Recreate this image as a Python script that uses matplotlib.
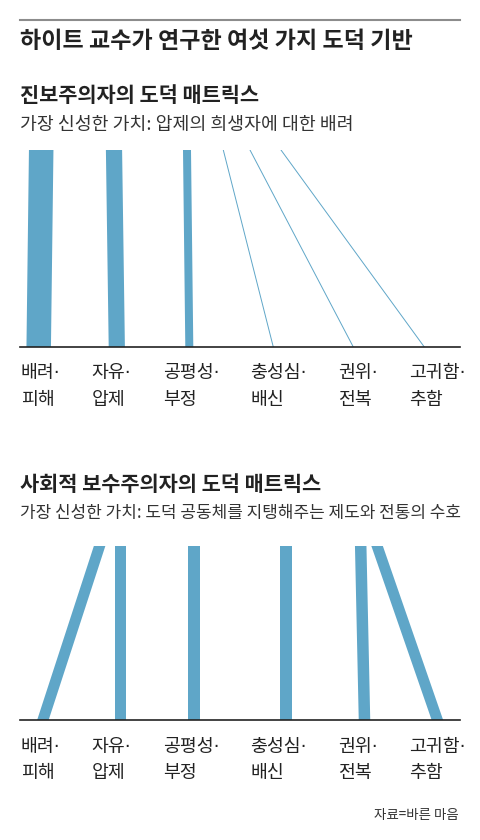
import matplotlib
matplotlib.use("Agg")
import matplotlib.pyplot as plt

plt.rcParams['font.family'] = ['Noto Sans CJK KR', 'DejaVu Sans']

title = "하이트 교수가 연구한 여섯 가지 도덕 기반"
source = "자료=바른 마음"
labels = ["배려·\n피해", "자유·\n압제", "공평성·\n부정", "충성심·\n배신", "권위·\n전복", "고귀함·\n추함"]
label_x = [0.7, 71.7, 143, 230, 318, 389]

lib_head = "진보주의자의 도덕 매트릭스"
lib_sub = "가장 신성한 가치: 압제의 희생자에 대한 배려"
lib_top = [21.2, 94, 167, 203.3, 230, 261]
lib_bottom = [18.7, 96.8, 169.3, 253.3, 333.3, 404.3]
lib_width = [24.5, 16.2, 8, 0, 0, 0]

con_head = "사회적 보수주의자의 도덕 매트릭스"
con_sub = "가장 신성한 가치: 도덕 공동체를 지탱해주는 제도와 전통의 수호"
con_top = [79.7, 100.3, 174.2, 265.8, 340.7, 357]
con_bottom = [22.8, 100.3, 174.2, 265.8, 344.5, 417.5]
con_width = [11.5, 11.5, 11.5, 11.5, 11.5, 11.5]

W, H = 480, 840
fig = plt.figure(figsize=(W / 100, H / 100), dpi=100)
BLUE = "#5fa6c8"
LABEL_FAMILY = ['DejaVu Sans', 'Noto Sans CJK KR']


def ax_px(x0, y0, x1, y1):
    return fig.add_axes([x0 / W, 1 - y1 / H, (x1 - x0) / W, (y1 - y0) / H])


def draw_panel(top_px, base_px, tops, bottoms, widths):
    ax = ax_px(20, top_px, 460, base_px)
    ax.set_xlim(0, 440)
    ax.set_ylim(0, 1)
    ax.axis('off')
    for t, b, w in zip(tops, bottoms, widths):
        if w > 0:
            ax.fill([b - w / 2, b + w / 2, t + w / 2, t - w / 2], [0, 0, 1, 1],
                    color=BLUE, lw=0)
        else:
            ax.plot([b, t], [0, 1], color=BLUE, lw=0.7)
    ax.plot([0, 440], [0, 0], color="#222222", lw=1.2, clip_on=False)
    return ax


def fy(y):
    return 1 - y / H


def fx(x):
    return x / W


def draw_labels(y1, y2):
    for lx, lab in zip(label_x, labels):
        l1, l2 = lab.split("\n")
        fig.text(fx(20 + lx), fy(y1), l1, fontsize=13.2, color="#222222",
                 va='center', ha='left', family=LABEL_FAMILY)
        fig.text(fx(20 + lx), fy(y2), l2, fontsize=13.2, color="#222222",
                 va='center', ha='left', family=LABEL_FAMILY)


# top rule
fig.add_artist(plt.Line2D([fx(20), fx(460)], [fy(20), fy(20)], color="#8c8c8c", lw=1.5))
fig.text(fx(20), fy(42), title, fontsize=16.6, fontweight='bold', color="#222222", va='center', ha='left')

fig.text(fx(20), fy(95), lib_head, fontsize=15, fontweight='bold', color="#222222", va='center', ha='left')
fig.text(fx(20), fy(125), lib_sub, fontsize=13.2, color="#333333", va='center', ha='left')
draw_panel(150, 347, lib_top, lib_bottom, lib_width)
draw_labels(373.3, 400)

fig.text(fx(20), fy(485), con_head, fontsize=15, fontweight='bold', color="#222222", va='center', ha='left')
fig.text(fx(20), fy(513), con_sub, fontsize=12.2, color="#333333", va='center', ha='left')
draw_panel(545.7, 720.3, con_top, con_bottom, con_width)
draw_labels(746.7, 772.7)

fig.text(fx(459), fy(815), source, fontsize=9.7, color="#333333", va='center', ha='right')

fig.savefig("out.png", dpi=100)
